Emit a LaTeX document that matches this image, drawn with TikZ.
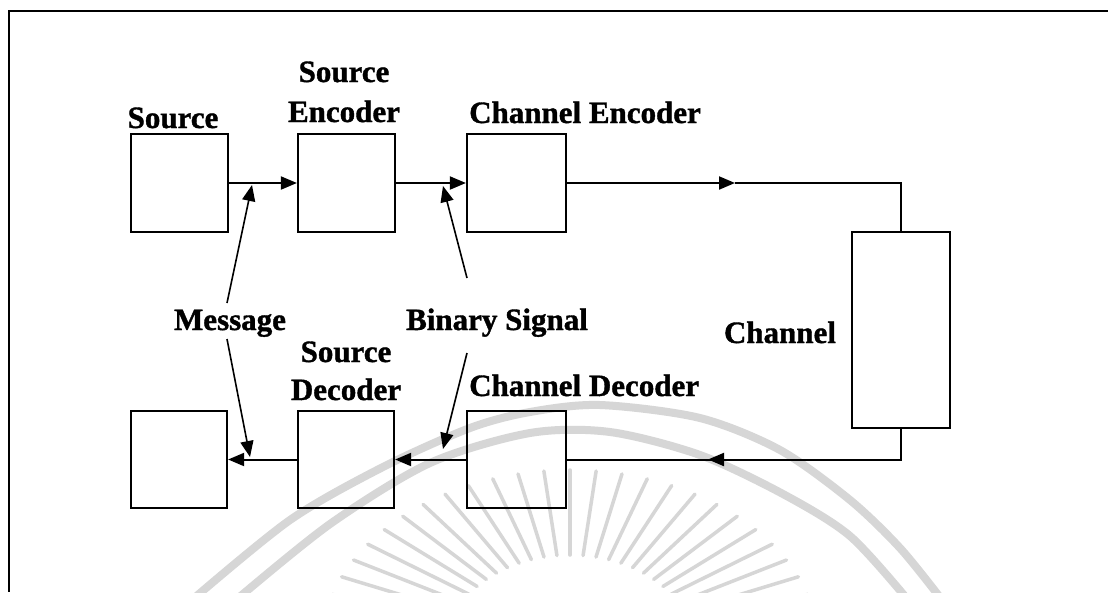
\documentclass[tikz,border=0pt]{standalone}
\usepackage{fontspec}
\setmainfont{Liberation Serif}[BoldFeatures={FakeBold=1.2}]
\usetikzlibrary{arrows.meta}
\definecolor{wm}{gray}{0.84}
\begin{document}
\begin{tikzpicture}[x=1pt,y=-1pt,
  box/.style={draw,line width=2.2pt,inner sep=0pt},
  conn/.style={line width=2pt},
  arr/.style={line width=2pt,-{Triangle[length=16pt,width=13pt]}},
  lbl/.style={font=\bfseries\fontsize{31}{40}\selectfont,inner sep=0pt},
  frame/.style={line width=2.2pt},
  wmband/.style={wm,line width=8pt},
  wmray/.style={wm,line width=3.5pt,line cap=round}]
\useasboundingbox (0,0) rectangle (1108,592);
\fill[white] (0,0) rectangle (1108,592);
% watermark
\begin{scope}
\clip (0,0) rectangle (1108,592);
\draw[wmband] plot[smooth] coordinates {(192,600) (290,520) (383,467) (470,428) (530,412) (600,405) (700,418) (780,450) (850,500) (900,548) (942,600)};
\draw[wmband] plot[smooth] coordinates {(236,600) (330,524) (430,463) (530,433) (610,432) (700,455) (783,494) (850,536) (908,600)};
\foreach \a in {18,24,...,162}
  \draw[wmray] ({570+125*cos(\a)},{650-95*sin(\a)}) -- ({570+250*cos(\a)},{650-180*sin(\a)});
\end{scope}
% frame
\coordinate (ftl) at (9,11);
\coordinate (ftr) at (1108,11);
\coordinate (fbl) at (9,592);
\draw[frame] (ftr) -- (ftl) -- (fbl);
% boxes
\node[box,minimum width=97pt,minimum height=98pt] (src)  at (179.5,183) {};
\node[box,minimum width=97pt,minimum height=98pt] (senc) at (346.5,183) {};
\node[box,minimum width=99pt,minimum height=98pt] (cenc) at (516.5,183) {};
\node[box,minimum width=98pt,minimum height=196pt] (chan) at (901,330) {};
\node[box,minimum width=99pt,minimum height=97pt] (cdec) at (516.5,459.5) {};
\node[box,minimum width=96pt,minimum height=97pt] (sdec) at (346,459.5) {};
\node[box,minimum width=96pt,minimum height=97pt] (sink) at (179,459.5) {};
% labels
\node[lbl,anchor=base] (lsrc) at (173,128) {Source};
\node[lbl,anchor=base,align=center,font=\bfseries\fontsize{31}{40}\selectfont] (lsenc) at (344,122) {Source\\Encoder};
\node[lbl,anchor=base west] (lcenc) at (469,123) {Channel Encoder};
\node[lbl,anchor=base] (lchan) at (780,343) {Channel};
\node[lbl,anchor=base] (lmsg) at (230,330) {Message};
\node[lbl,anchor=base] (lbin) at (497,330) {Binary Signal};
\node[lbl,anchor=base,align=center,font=\bfseries\fontsize{31}{38}\selectfont] (lsdec) at (346,400) {Source\\Decoder};
\node[lbl,anchor=base west] (lcdec) at (469,396) {Channel Decoder};
% forward path
\draw[arr] (src.east) -- (senc.west);
\draw[arr] (senc.east) -- (cenc.west);
\coordinate (ma) at (735,183);
\coordinate (tr) at (chan.north |- cenc.east);
\draw[arr] (cenc.east) -- (ma);
\draw[conn] (ma) -- (tr) -- (chan.north);
\coordinate (br) at (chan.south |- cdec.east);
\coordinate (mb) at (708,459.5);
\draw[conn] (chan.south) -- (br) -- (mb);
\draw[arr] (br) -- (mb);
\draw[conn] (mb) -- (cdec.east);
\draw[arr] (cdec.west) -- (sdec.east);
\draw[arr] (sdec.west) -- (sink.east);
% pointer arrows
\coordinate (m1) at (227,303);
\coordinate (m1t) at (252,185);
\coordinate (m2) at (227,339);
\coordinate (m2t) at (250,457);
\coordinate (b1) at (467,278);
\coordinate (b1t) at (443,186);
\coordinate (b2) at (467,353);
\coordinate (b2t) at (443,449);
\draw[arr,line width=1.6pt] (m1) -- (m1t);
\draw[arr,line width=1.6pt] (m2) -- (m2t);
\draw[arr,line width=1.6pt] (b1) -- (b1t);
\draw[arr,line width=1.6pt] (b2) -- (b2t);
\end{tikzpicture}
\end{document}
